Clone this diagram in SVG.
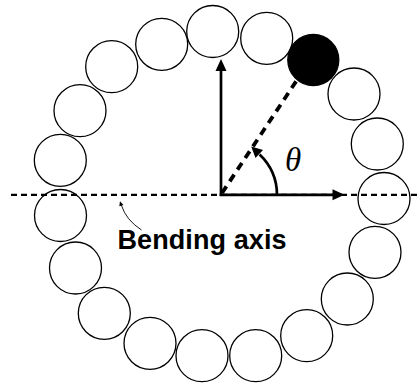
<svg xmlns="http://www.w3.org/2000/svg" width="420" height="386" viewBox="0 0 420 386">
<style>
.bead{fill:#fff;stroke:#000;stroke-width:1.3}
.black{fill:#000;stroke:#000;stroke-width:1.3}
.axis{stroke:#000;stroke-width:2.7;fill:none}
.dash{stroke:#000;stroke-width:2.3;stroke-dasharray:6 4;fill:none}
.rdash{stroke:#000;stroke-width:3.8;stroke-dasharray:8 6;fill:none}
.head{fill:#000}
.lbl{font-family:"Liberation Sans",Arial,sans-serif;font-weight:bold;font-size:27px;fill:#000}
.theta{font-family:"Liberation Serif","Times New Roman",serif;font-style:italic;font-size:33px;fill:#000}
</style>
<rect width="420" height="386" fill="#fff"/>
<g id="beads">
<g id="bead1"><circle class="bead" cx="212.7" cy="31.5" r="26"/></g>
<g id="bead2"><circle class="bead" cx="266.7" cy="38.3" r="26"/></g>
<g id="bead3"><circle class="black" cx="313.3" cy="60" r="25.5"/></g>
<g id="bead4"><circle class="bead" cx="354" cy="94" r="26"/></g>
<g id="bead5"><circle class="bead" cx="377.3" cy="144" r="26"/></g>
<g id="bead6"><circle class="bead" cx="384" cy="198.5" r="26"/></g>
<g id="bead7"><circle class="bead" cx="375" cy="252.3" r="26"/></g>
<g id="bead8"><circle class="bead" cx="347.3" cy="299" r="26"/></g>
<g id="bead9"><circle class="bead" cx="306.7" cy="335.7" r="26"/></g>
<g id="bead10"><circle class="bead" cx="255.7" cy="355.7" r="26"/></g>
<g id="bead11"><circle class="bead" cx="202" cy="355.7" r="26"/></g>
<g id="bead12"><circle class="bead" cx="150" cy="343.3" r="26"/></g>
<g id="bead13"><circle class="bead" cx="104.3" cy="313.3" r="26"/></g>
<g id="bead14"><circle class="bead" cx="75.5" cy="268" r="26"/></g>
<g id="bead15"><circle class="bead" cx="60.5" cy="215.5" r="26"/></g>
<g id="bead16"><circle class="bead" cx="60.3" cy="160.3" r="26"/></g>
<g id="bead17"><circle class="bead" cx="80" cy="110.7" r="26"/></g>
<g id="bead18"><circle class="bead" cx="111.7" cy="66.7" r="26"/></g>
<g id="bead19"><circle class="bead" cx="161.7" cy="44.3" r="26"/></g>
</g>
<g id="connectors">
<line class="dash" x1="11" y1="194.8" x2="420" y2="194.8"/>
<line class="rdash" x1="222" y1="193" x2="297" y2="80"/>
<line class="axis" x1="221" y1="196" x2="221" y2="70"/>
<polygon class="head" points="221,59 226.5,71 215.5,71"/>
<line class="axis" x1="219.7" y1="194.8" x2="334" y2="194.8"/>
<polygon class="head" points="344.5,194.8 332.5,189.3 332.5,200.3"/>
<path class="axis" d="M 277 195 A 56 56 0 0 0 259.6 154.6"/>
<polygon class="head" points="251.2,146.5 263,150 255.5,158"/>
<path d="M 141.5 230 Q 126 220 121.3 205" stroke="#000" stroke-width="0.9" fill="none"/>
<polygon class="head" points="120,201.3 123.4,205 119.3,206.2"/>
</g>
<g id="labels">
<text class="theta" x="285" y="170.5">θ</text>
<text class="lbl" x="117.5" y="248.5" textLength="169" lengthAdjust="spacing">Bending axis</text>
</g>
</svg>
